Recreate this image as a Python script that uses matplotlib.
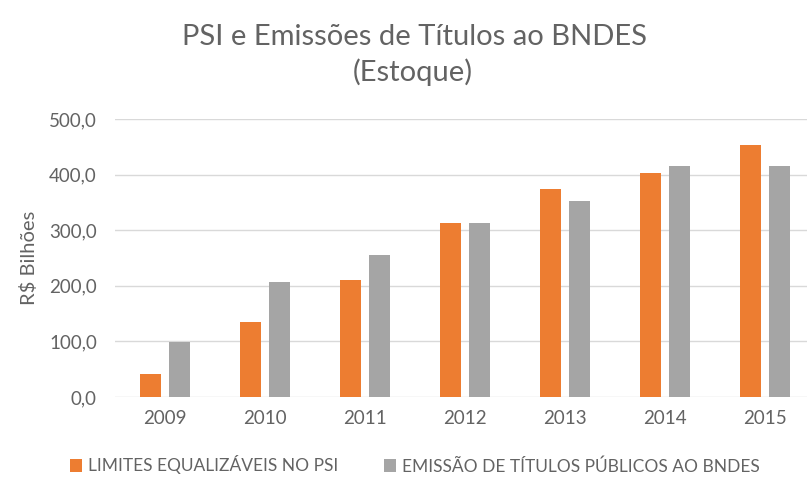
import matplotlib
matplotlib.use("Agg")
import matplotlib.pyplot as plt
import numpy as np

years = ["2009", "2010", "2011", "2012", "2013", "2014", "2015"]
limites_psi = [42, 134, 210, 313, 374, 403, 453]
emissao_titulos = [99, 206, 256, 313, 353, 415, 415]
yticks = [0, 100, 200, 300, 400, 500]
series_names = ["LIMITES EQUALIZÁVEIS NO PSI", "EMISSÃO DE TÍTULOS PÚBLICOS AO BNDES"]

plt.rcParams['font.family'] = ['Lato', 'DejaVu Sans']
txt = "#636363"
W, H = 807, 484
fig = plt.figure(figsize=(W/100, H/100), dpi=100)
ax = fig.add_axes([115/W, 1-397/H, (807-115)/W, (397-119)/H])

x = np.arange(len(years))
bw = 0.21
off = 0.145
ax.bar(x - off, limites_psi, bw, color="#ED7D31", label=series_names[0], zorder=3)
ax.bar(x + off, emissao_titulos, bw, color="#A5A5A5", label=series_names[1], zorder=3)

ax.set_xlim(-0.5, 6.42)
ax.set_ylim(0, 500)
ax.set_yticks(yticks)
ax.set_yticklabels([f"{v:.1f}".replace(".", ",") for v in yticks])
ax.set_xticks(x)
ax.set_xticklabels(years)
ax.grid(axis="y", color="#D9D9D9", linewidth=1, zorder=0)
for s in ax.spines.values():
    s.set_visible(False)
ax.tick_params(length=0, colors=txt, labelsize=13.5)
ax.tick_params(axis="y", pad=13)
ax.tick_params(axis="x", pad=9)
ax.set_ylabel("R$ Bilhões", color=txt, fontsize=14.5, labelpad=8)

fig.text(415/W, 1-37/H, "PSI e Emissões de Títulos ao BNDES", ha="center", va="center", color=txt, fontsize=21)
fig.text(413/W, 1-72/H, "(Estoque)", ha="center", va="center", color=txt, fontsize=21)

leg = fig.legend(loc="center", bbox_to_anchor=(415/W, 1-465/H), ncol=2, frameon=False,
                 fontsize=12.5, handlelength=0.7, handleheight=0.7, handletextpad=0.35, columnspacing=2.6)
for t in leg.get_texts():
    t.set_color(txt)

fig.savefig("out.png", dpi=100)
